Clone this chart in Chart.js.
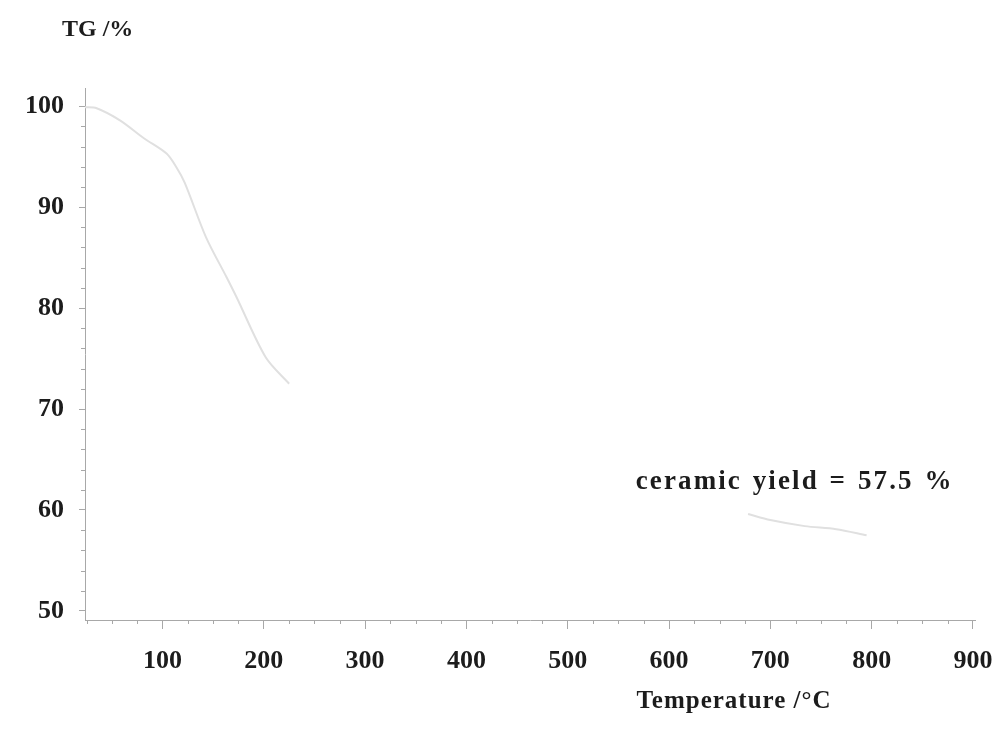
<!DOCTYPE html>
<html>
<head>
<meta charset="utf-8">
<title>TG curve</title>
<script src="https://cdn.jsdelivr.net/npm/chart.js@4.4.1/dist/chart.umd.min.js"></script>
<style>
  html, body { margin: 0; padding: 0; background: #ffffff; }
  #wrap { width: 1002px; height: 729px; position: relative; }
</style>
</head>
<body>
<div id="wrap"><canvas id="tg"></canvas></div>
<script>
// Thermogravimetric trace: temperature (°C) against residual mass (%).
// The mid-range of the trace is missing, so the line breaks there (null).
const temperature = [23.5, 35, 58, 82, 104, 114, 122, 143, 163, 173, 202, 225, 450, 678, 700, 734, 765, 795];
const massPercent = [99.9, 99.8, 98.6, 96.8, 95.3, 93.9, 92.4, 87.0, 83.1, 81.1, 75.1, 72.5, null, 59.6, 59.0, 58.4, 58.1, 57.5];

// Axis ticks
const xMajorTicks = [100, 200, 300, 400, 500, 600, 700, 800, 900];
const xMinorTicks = [25, 50, 75, 125, 150, 175, 225, 250, 275, 325, 350, 375, 425, 450, 475,
                     525, 550, 575, 625, 650, 675, 725, 750, 775, 825, 850, 875];
const yMajorTicks = [50, 60, 70, 80, 90, 100];
const yMinorTicks = [52, 54, 56, 58, 62, 64, 66, 68, 72, 74, 76, 78, 82, 84, 86, 88, 92, 94, 96, 98];

const ceramicYield = 57.5;
const yieldText = 'ceramic yield = ' + ceramicYield + ' %';
const yAxisLabel = 'TG /%';
const xAxisLabel = 'Temperature /°C';

const points = temperature.map((t, i) => ({ x: t, y: massPercent[i] }));

const serif = "'Liberation Serif', 'DejaVu Serif', serif";
const inkColor = '#1c1c1c';
const axisColor = '#a8a8a8';

// Short minor tick marks along both axes, placed with the chart's own scales
const minorTicks = {
  id: 'minorTicks',
  afterDraw(chart) {
    const { ctx, scales: { x, y } } = chart;
    ctx.save();
    ctx.strokeStyle = axisColor;
    ctx.lineWidth = 1;
    ctx.beginPath();
    xMinorTicks.forEach(v => {
      const px = Math.round(x.getPixelForValue(v)) + 0.5;
      ctx.moveTo(px, y.bottom);
      ctx.lineTo(px, y.bottom + 4);
    });
    yMinorTicks.forEach(v => {
      const py = Math.round(y.getPixelForValue(v)) + 0.5;
      ctx.moveTo(x.left, py);
      ctx.lineTo(x.left - 4, py);
    });
    ctx.stroke();
    ctx.restore();
  }
};

// Axis captions and the ceramic-yield note
const captions = {
  id: 'captions',
  afterDraw(chart) {
    const { ctx, scales: { x, y } } = chart;
    ctx.save();
    ctx.fillStyle = inkColor;
    ctx.textBaseline = 'middle';

    ctx.font = 'bold 24px ' + serif;
    ctx.textAlign = 'left';
    ctx.letterSpacing = '0px';
    ctx.fillText(yAxisLabel, 62, 30);

    ctx.font = 'bold 25px ' + serif;
    ctx.textAlign = 'center';
    ctx.letterSpacing = '1px';
    ctx.fillText(xAxisLabel, 734, 702);

    ctx.font = 'bold 27px ' + serif;
    ctx.letterSpacing = '2.1px';
    ctx.wordSpacing = '2px';
    ctx.fillText(yieldText, x.getPixelForValue(724), y.getPixelForValue(62.8));
    ctx.restore();
  }
};

new Chart(document.getElementById('tg'), {
  type: 'scatter',
  data: {
    datasets: [{
      data: points,
      showLine: true,
      spanGaps: false,
      borderColor: '#e0e0e0',
      borderWidth: 2,
      tension: 0.3,
      pointRadius: 0,
      pointHoverRadius: 0
    }]
  },
  options: {
    responsive: true,
    maintainAspectRatio: false,
    devicePixelRatio: 1,
    animation: false,
    events: [],
    layout: { padding: { top: 88, right: 27, left: 0, bottom: 0 } },
    plugins: {
      legend: { display: false },
      tooltip: { enabled: false },
      title: { display: false }
    },
    scales: {
      x: {
        type: 'linear',
        min: 23.5,
        max: 902,
        afterBuildTicks(scale) { scale.ticks = xMajorTicks.map(v => ({ value: v })); },
        afterFit(scale) {
          scale.height = 109;
          scale.paddingLeft = 0;
          scale.paddingRight = 0;
        },
        border: { display: true, color: axisColor, width: 1 },
        grid: { display: true, drawOnChartArea: false, drawTicks: true, tickLength: 9, color: axisColor },
        ticks: {
          color: inkColor,
          padding: 17,
          maxRotation: 0,
          autoSkip: false,
          font: { family: serif, size: 26, weight: 'bold' },
          callback: v => String(v)
        }
      },
      y: {
        type: 'linear',
        min: 49.1,
        max: 101.8,
        afterBuildTicks(scale) { scale.ticks = yMajorTicks.map(v => ({ value: v })); },
        afterFit(scale) {
          scale.width = 85;
          scale.paddingTop = 0;
          scale.paddingBottom = 0;
        },
        border: { display: true, color: axisColor, width: 1 },
        grid: { display: true, drawOnChartArea: false, drawTicks: true, tickLength: 6, color: axisColor },
        ticks: {
          color: inkColor,
          padding: 15,
          autoSkip: false,
          font: { family: serif, size: 26, weight: 'bold' },
          callback: v => String(v)
        }
      }
    }
  },
  plugins: [minorTicks, captions]
});
</script>
</body>
</html>
